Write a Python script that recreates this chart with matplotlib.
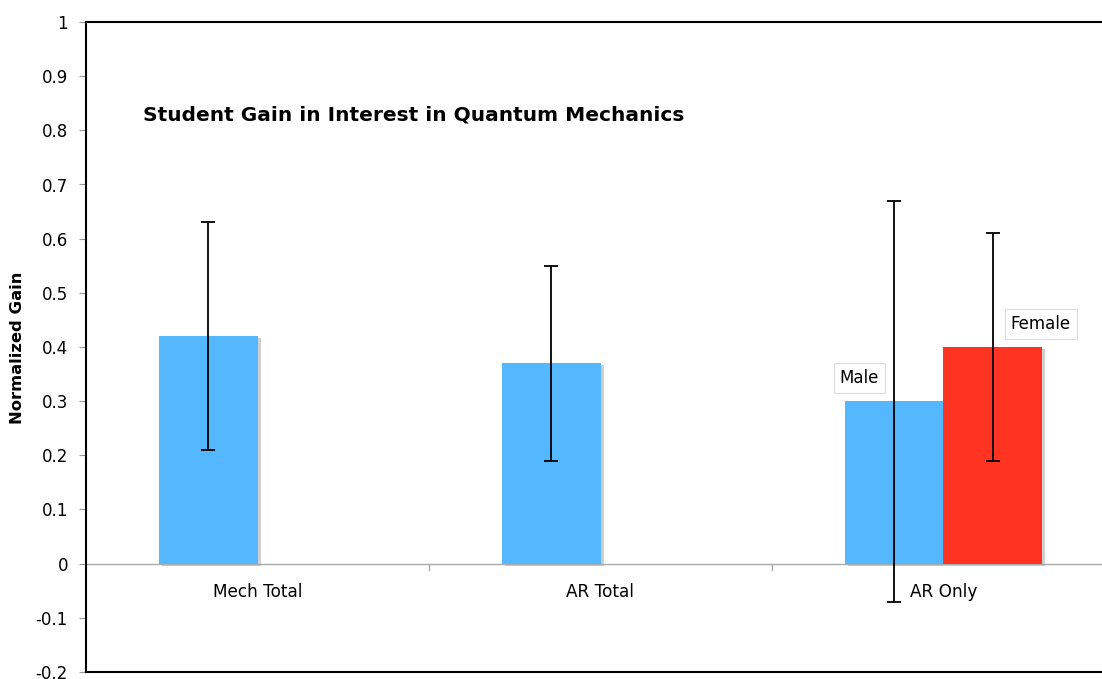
import numpy as np
import matplotlib.pyplot as plt

# Student gain in interest, normalized
categories = ["Mech Total", "AR Total", "AR Only"]
male_vals = [0.42, 0.37, 0.30]
male_lo = [0.21, 0.19, -0.07]
male_hi = [0.63, 0.55, 0.67]
female_vals = [np.nan, np.nan, 0.40]
female_lo = [np.nan, np.nan, 0.19]
female_hi = [np.nan, np.nan, 0.61]

blue = "#55B8FF"
red = "#FF3322"
shadow = "#CFCFCF"

fig = plt.figure(figsize=(11.02, 6.79), dpi=100)
ax = fig.add_axes([86 / 1102, (679 - 672) / 679, (1115 - 86) / 1102, (672 - 22) / 679])

x = np.arange(len(categories))
w = 0.286

# shadows first
ax.bar(x - w / 2 + 0.009, male_vals, w, bottom=-0.004, color=shadow, zorder=1)
ax.bar(x + w / 2 + 0.009, female_vals, w, bottom=-0.004, color=shadow, zorder=1)
ax.bar(x - w / 2, male_vals, w, color=blue, zorder=2)
ax.bar(x + w / 2, female_vals, w, color=red, zorder=2)

m = np.array(male_vals)
ax.errorbar(x - w / 2, m, yerr=[m - np.array(male_lo), np.array(male_hi) - m],
            fmt="none", ecolor="black", elinewidth=1.3, capsize=5, capthick=1.3, zorder=3)
f = np.array(female_vals)
ax.errorbar(x + w / 2, f, yerr=[f - np.array(female_lo), np.array(female_hi) - f],
            fmt="none", ecolor="black", elinewidth=1.3, capsize=5, capthick=1.3, zorder=3)

# zero line with category separator ticks
ax.axhline(0, color="#AAAAAA", lw=1, zorder=1.5)
for b in [0.5, 1.5]:
    ax.plot([b, b], [0, -0.012], color="#AAAAAA", lw=1, zorder=4, clip_on=False)
for i, c in enumerate(categories):
    ax.text(i, -0.035, c, ha="center", va="top", fontsize=12.2)

ax.set_xlim(-0.5, 2.5)
ax.set_ylim(-0.2, 1.0)
ax.set_xticks([])
ax.set_yticks(np.round(np.arange(-0.2, 1.01, 0.1), 1))
ax.set_yticklabels(["-0.2", "-0.1", "0", "0.1", "0.2", "0.3", "0.4", "0.5",
                    "0.6", "0.7", "0.8", "0.9", "1"], fontsize=12)
ax.tick_params(axis="y", length=5, color="#999999", pad=8)
for s in ["left", "top", "bottom"]:
    ax.spines[s].set_linewidth(1.5)
ax.spines["right"].set_visible(False)

fig.text(18 / 1102, 1 - 348 / 679, "Normalized Gain", fontsize=11.8, fontweight="bold",
         rotation=90, ha="center", va="center")

fig.text(143 / 1102, 1 - 115 / 679, "Student Gain in Interest in Quantum Mechanics",
         fontsize=14.5, fontweight="bold", va="center")

box = dict(boxstyle="square,pad=0.35", fc="white", ec="#DDDDDD", lw=0.8)
ax.text(1.754, 0.343, "Male", fontsize=12, ha="center", va="center", bbox=box)
ax.text(2.284, 0.443, "Female", fontsize=12, ha="center", va="center", bbox=box)

fig.savefig("out.png", dpi=100)
